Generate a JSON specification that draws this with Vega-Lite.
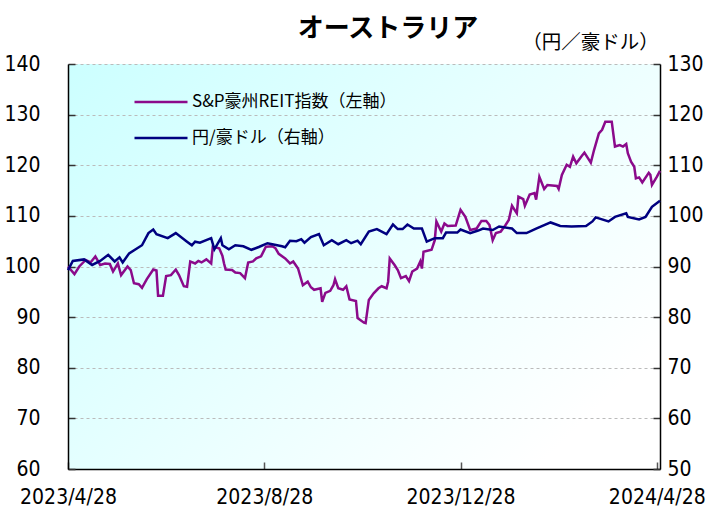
{
  "$schema": "https://vega.github.io/schema/vega-lite/v6.json",
  "width": 592,
  "height": 405,
  "autosize": {"type": "none"},
  "padding": {"left": 68, "top": 64, "right": 50, "bottom": 40},
  "background": "white",
  "config": {
    "view": {
      "stroke": null,
      "fill": {"gradient": "linear", "x1": 0, "y1": 0, "x2": 1, "y2": 0.7, "stops": [{"offset": 0, "color": "#ccffff"}, {"offset": 1, "color": "#ffffff"}]}
    }
  },
  "title": {
    "text": "オーストラリア",
    "font": "Noto Sans CJK JP",
    "fontSize": 26,
    "fontWeight": "bold",
    "color": "black",
    "anchor": "middle",
    "dx": 24,
    "offset": -10
  },
  "datasets": {
    "reit": [
      {"d": "2023-04-28", "v": 100.0}, {"d": "2023-05-02", "v": 98.5}, {"d": "2023-05-05", "v": 100.0}, {"d": "2023-05-09", "v": 101.3},
      {"d": "2023-05-12", "v": 100.8}, {"d": "2023-05-15", "v": 102.0}, {"d": "2023-05-18", "v": 100.3}, {"d": "2023-05-21", "v": 100.6},
      {"d": "2023-05-24", "v": 100.5}, {"d": "2023-05-26", "v": 99.0}, {"d": "2023-05-29", "v": 100.6}, {"d": "2023-05-31", "v": 98.3},
      {"d": "2023-06-04", "v": 100.0}, {"d": "2023-06-06", "v": 99.3}, {"d": "2023-06-08", "v": 96.7}, {"d": "2023-06-11", "v": 96.5},
      {"d": "2023-06-13", "v": 95.8}, {"d": "2023-06-16", "v": 97.5}, {"d": "2023-06-20", "v": 99.4}, {"d": "2023-06-22", "v": 99.2},
      {"d": "2023-06-23", "v": 94.2}, {"d": "2023-06-26", "v": 94.2}, {"d": "2023-06-28", "v": 98.1}, {"d": "2023-07-01", "v": 98.3},
      {"d": "2023-07-04", "v": 99.4}, {"d": "2023-07-06", "v": 98.3}, {"d": "2023-07-09", "v": 96.1}, {"d": "2023-07-11", "v": 96.0},
      {"d": "2023-07-13", "v": 101.0}, {"d": "2023-07-16", "v": 100.6}, {"d": "2023-07-18", "v": 101.1}, {"d": "2023-07-20", "v": 100.8},
      {"d": "2023-07-23", "v": 101.4}, {"d": "2023-07-26", "v": 100.6}, {"d": "2023-07-27", "v": 103.9}, {"d": "2023-07-31", "v": 103.6},
      {"d": "2023-08-02", "v": 102.1}, {"d": "2023-08-03", "v": 100.6}, {"d": "2023-08-04", "v": 99.4}, {"d": "2023-08-08", "v": 99.3},
      {"d": "2023-08-10", "v": 98.8}, {"d": "2023-08-13", "v": 98.7}, {"d": "2023-08-16", "v": 97.7}, {"d": "2023-08-18", "v": 100.8},
      {"d": "2023-08-21", "v": 101.0}, {"d": "2023-08-23", "v": 101.6}, {"d": "2023-08-26", "v": 102.0}, {"d": "2023-08-29", "v": 103.9},
      {"d": "2023-09-02", "v": 104.0}, {"d": "2023-09-04", "v": 103.6}, {"d": "2023-09-06", "v": 102.5}, {"d": "2023-09-10", "v": 101.6},
      {"d": "2023-09-13", "v": 100.6}, {"d": "2023-09-15", "v": 101.0}, {"d": "2023-09-18", "v": 99.6}, {"d": "2023-09-21", "v": 96.3},
      {"d": "2023-09-24", "v": 97.0}, {"d": "2023-09-26", "v": 95.9}, {"d": "2023-09-28", "v": 95.4}, {"d": "2023-10-02", "v": 95.7},
      {"d": "2023-10-03", "v": 93.0}, {"d": "2023-10-05", "v": 94.8}, {"d": "2023-10-08", "v": 95.2}, {"d": "2023-10-10", "v": 96.3},
      {"d": "2023-10-11", "v": 97.5}, {"d": "2023-10-13", "v": 95.7}, {"d": "2023-10-16", "v": 95.4}, {"d": "2023-10-18", "v": 96.1},
      {"d": "2023-10-20", "v": 93.5}, {"d": "2023-10-24", "v": 93.2}, {"d": "2023-10-25", "v": 89.8}, {"d": "2023-10-29", "v": 88.9},
      {"d": "2023-10-30", "v": 88.8}, {"d": "2023-11-01", "v": 93.4}, {"d": "2023-11-04", "v": 94.7}, {"d": "2023-11-07", "v": 95.7},
      {"d": "2023-11-09", "v": 96.1}, {"d": "2023-11-12", "v": 95.7}, {"d": "2023-11-13", "v": 97.0}, {"d": "2023-11-14", "v": 101.6},
      {"d": "2023-11-17", "v": 100.3}, {"d": "2023-11-19", "v": 99.3}, {"d": "2023-11-21", "v": 97.7}, {"d": "2023-11-24", "v": 98.1},
      {"d": "2023-11-26", "v": 97.1}, {"d": "2023-11-28", "v": 99.0}, {"d": "2023-12-01", "v": 99.6}, {"d": "2023-12-03", "v": 101.0},
      {"d": "2023-12-04", "v": 99.6}, {"d": "2023-12-05", "v": 102.9}, {"d": "2023-12-10", "v": 103.3}, {"d": "2023-12-12", "v": 105.2},
      {"d": "2023-12-13", "v": 108.9}, {"d": "2023-12-16", "v": 106.9}, {"d": "2023-12-18", "v": 108.5}, {"d": "2023-12-20", "v": 108.0},
      {"d": "2023-12-25", "v": 108.1}, {"d": "2023-12-28", "v": 111.2}, {"d": "2023-12-31", "v": 109.8}, {"d": "2024-01-03", "v": 107.2},
      {"d": "2024-01-07", "v": 107.5}, {"d": "2024-01-10", "v": 109.0}, {"d": "2024-01-13", "v": 109.0}, {"d": "2024-01-15", "v": 108.2},
      {"d": "2024-01-17", "v": 105.2}, {"d": "2024-01-19", "v": 106.6}, {"d": "2024-01-22", "v": 106.9}, {"d": "2024-01-25", "v": 108.2},
      {"d": "2024-01-27", "v": 109.2}, {"d": "2024-01-29", "v": 112.0}, {"d": "2024-02-01", "v": 110.5}, {"d": "2024-02-02", "v": 113.8},
      {"d": "2024-02-05", "v": 113.3}, {"d": "2024-02-06", "v": 112.0}, {"d": "2024-02-09", "v": 114.2}, {"d": "2024-02-12", "v": 114.5},
      {"d": "2024-02-13", "v": 113.2}, {"d": "2024-02-15", "v": 117.7}, {"d": "2024-02-18", "v": 115.3}, {"d": "2024-02-20", "v": 116.1},
      {"d": "2024-02-26", "v": 115.9}, {"d": "2024-02-27", "v": 115.3}, {"d": "2024-02-29", "v": 118.1}, {"d": "2024-03-03", "v": 120.1},
      {"d": "2024-03-05", "v": 119.7}, {"d": "2024-03-07", "v": 121.7}, {"d": "2024-03-09", "v": 120.4}, {"d": "2024-03-12", "v": 121.7},
      {"d": "2024-03-14", "v": 122.5}, {"d": "2024-03-18", "v": 120.5}, {"d": "2024-03-20", "v": 123.0}, {"d": "2024-03-23", "v": 126.3},
      {"d": "2024-03-25", "v": 127.0}, {"d": "2024-03-27", "v": 128.6}, {"d": "2024-03-31", "v": 128.6}, {"d": "2024-04-02", "v": 123.7},
      {"d": "2024-04-05", "v": 124.0}, {"d": "2024-04-07", "v": 123.7}, {"d": "2024-04-09", "v": 124.2}, {"d": "2024-04-10", "v": 122.4},
      {"d": "2024-04-12", "v": 120.7}, {"d": "2024-04-14", "v": 119.7}, {"d": "2024-04-15", "v": 117.4}, {"d": "2024-04-17", "v": 117.6},
      {"d": "2024-04-19", "v": 116.6}, {"d": "2024-04-23", "v": 118.5}, {"d": "2024-04-24", "v": 118.1}, {"d": "2024-04-25", "v": 116.1},
      {"d": "2024-04-28", "v": 117.7}, {"d": "2024-04-30", "v": 118.9}
    ],
    "jpy": [
      {"d": "2023-04-28", "v": 89.3}, {"d": "2023-05-01", "v": 91.1}, {"d": "2023-05-08", "v": 91.4}, {"d": "2023-05-13", "v": 90.3},
      {"d": "2023-05-18", "v": 91.1}, {"d": "2023-05-23", "v": 92.3}, {"d": "2023-05-27", "v": 91.0}, {"d": "2023-05-30", "v": 91.8},
      {"d": "2023-06-01", "v": 90.8}, {"d": "2023-06-05", "v": 92.6}, {"d": "2023-06-13", "v": 94.2}, {"d": "2023-06-17", "v": 96.6},
      {"d": "2023-06-20", "v": 97.3}, {"d": "2023-06-22", "v": 96.4}, {"d": "2023-06-29", "v": 95.6}, {"d": "2023-07-04", "v": 96.6},
      {"d": "2023-07-11", "v": 94.9}, {"d": "2023-07-14", "v": 94.2}, {"d": "2023-07-16", "v": 94.9}, {"d": "2023-07-19", "v": 94.7},
      {"d": "2023-07-26", "v": 95.6}, {"d": "2023-07-28", "v": 93.4}, {"d": "2023-08-01", "v": 95.6}, {"d": "2023-08-02", "v": 94.2},
      {"d": "2023-08-06", "v": 93.4}, {"d": "2023-08-10", "v": 94.2}, {"d": "2023-08-15", "v": 94.0}, {"d": "2023-08-20", "v": 93.3},
      {"d": "2023-08-25", "v": 93.9}, {"d": "2023-08-30", "v": 94.6}, {"d": "2023-09-02", "v": 94.4}, {"d": "2023-09-08", "v": 94.0},
      {"d": "2023-09-10", "v": 93.8}, {"d": "2023-09-13", "v": 95.1}, {"d": "2023-09-17", "v": 95.0}, {"d": "2023-09-20", "v": 95.4},
      {"d": "2023-09-22", "v": 94.7}, {"d": "2023-09-26", "v": 95.8}, {"d": "2023-10-01", "v": 96.4}, {"d": "2023-10-04", "v": 94.2},
      {"d": "2023-10-09", "v": 95.2}, {"d": "2023-10-13", "v": 94.4}, {"d": "2023-10-18", "v": 95.2}, {"d": "2023-10-21", "v": 94.6},
      {"d": "2023-10-25", "v": 95.1}, {"d": "2023-10-27", "v": 94.4}, {"d": "2023-11-01", "v": 96.9}, {"d": "2023-11-06", "v": 97.4},
      {"d": "2023-11-12", "v": 96.4}, {"d": "2023-11-16", "v": 98.3}, {"d": "2023-11-19", "v": 97.4}, {"d": "2023-11-22", "v": 97.4},
      {"d": "2023-11-25", "v": 98.3}, {"d": "2023-11-29", "v": 97.5}, {"d": "2023-12-04", "v": 97.5}, {"d": "2023-12-07", "v": 94.9},
      {"d": "2023-12-12", "v": 95.6}, {"d": "2023-12-17", "v": 95.6}, {"d": "2023-12-19", "v": 96.7}, {"d": "2023-12-26", "v": 96.7},
      {"d": "2023-12-28", "v": 97.3}, {"d": "2024-01-03", "v": 96.6}, {"d": "2024-01-08", "v": 97.1}, {"d": "2024-01-11", "v": 97.5},
      {"d": "2024-01-17", "v": 97.2}, {"d": "2024-01-21", "v": 97.9}, {"d": "2024-01-29", "v": 97.5}, {"d": "2024-02-01", "v": 96.6},
      {"d": "2024-02-07", "v": 96.6}, {"d": "2024-02-13", "v": 97.5}, {"d": "2024-02-22", "v": 98.7}, {"d": "2024-02-28", "v": 98.0},
      {"d": "2024-03-06", "v": 97.9}, {"d": "2024-03-15", "v": 98.0}, {"d": "2024-03-19", "v": 98.9}, {"d": "2024-03-21", "v": 99.7},
      {"d": "2024-03-29", "v": 98.9}, {"d": "2024-04-02", "v": 99.8}, {"d": "2024-04-09", "v": 100.5}, {"d": "2024-04-10", "v": 99.8},
      {"d": "2024-04-17", "v": 99.3}, {"d": "2024-04-21", "v": 99.8}, {"d": "2024-04-25", "v": 101.8}, {"d": "2024-04-30", "v": 103.0}
    ]
  },
  "layer": [
    {
      "data": {"name": "reit"},
      "mark": {"type": "line", "strokeWidth": 2.5},
      "encoding": {
        "x": {
          "field": "d", "type": "temporal",
          "scale": {"type": "utc", "domain": [{"year": 2023, "month": 4, "date": 28, "utc": true}, {"year": 2024, "month": 4, "date": 30, "utc": true}]},
          "axis": {
            "title": null,
            "values": [{"year": 2023, "month": 4, "date": 28, "utc": true}, {"year": 2023, "month": 8, "date": 28, "utc": true}, {"year": 2023, "month": 12, "date": 28, "utc": true}, {"year": 2024, "month": 4, "date": 28, "utc": true}],
            "labelExpr": "utcFormat(datum.value, '%Y/%-m/%-d')",
            "grid": false,
            "domainColor": "black", "domainWidth": 1.5,
            "tickColor": "#555555", "tickSize": -7, "tickWidth": 1.5,
            "labelFont": "Liberation Sans Narrow, DejaVu Sans Condensed, sans-serif",
            "labelFontSize": 21, "labelColor": "black", "labelPadding": 24,
            "labelFlush": false, "labelOverlap": false
          }
        },
        "y": {
          "field": "v", "type": "quantitative",
          "scale": {"domain": [60, 140], "nice": false, "zero": false},
          "axis": {
            "title": null, "values": [60, 70, 80, 90, 100, 110, 120, 130, 140],
            "grid": true, "gridColor": "#bbbbbb", "gridDash": [3, 3], "gridWidth": 1,
            "domainColor": "black", "domainWidth": 1.5,
            "tickColor": "#333333", "tickSize": -7, "tickWidth": 1.5,
            "labelFont": "Liberation Sans Narrow, DejaVu Sans Condensed, sans-serif",
            "labelFontSize": 21, "labelColor": "black", "labelPadding": 35,
            "labelFlush": false, "labelOverlap": false
          }
        },
        "color": {
          "datum": "S&P豪州REIT指数（左軸）",
          "scale": {"domain": ["S&P豪州REIT指数（左軸）", "円/豪ドル（右軸）"], "range": ["#8b0a8b", "#000080"]},
          "legend": {
            "title": null, "orient": "none", "legendX": 65, "legendY": 10,
            "symbolType": "stroke", "symbolSize": 2809, "symbolStrokeWidth": 2.5,
            "labelFont": "Noto Sans CJK JP", "labelFontSize": 17, "labelColor": "black", "labelLimit": 400,
            "labelOffset": 3, "rowPadding": -20, "padding": 0
          }
        }
      }
    },
    {
      "data": {"name": "jpy"},
      "mark": {"type": "line", "strokeWidth": 2.5},
      "encoding": {
        "x": {"field": "d", "type": "temporal"},
        "y": {
          "field": "v", "type": "quantitative",
          "scale": {"domain": [50, 130], "nice": false, "zero": false},
          "axis": {
            "orient": "right",
            "title": "（円／豪ドル）", "titleAngle": 0, "titleX": -70, "titleY": -22,
            "titleAlign": "center", "titleBaseline": "middle",
            "titleFont": "Noto Sans CJK JP", "titleFontSize": 19.5, "titleFontWeight": "normal", "titleColor": "black",
            "values": [50, 60, 70, 80, 90, 100, 110, 120, 130],
            "grid": false,
            "domainColor": "black", "domainWidth": 1.5,
            "tickColor": "#333333", "tickSize": -7, "tickWidth": 1.5,
            "labelFont": "Liberation Sans Narrow, DejaVu Sans Condensed, sans-serif",
            "labelFontSize": 21, "labelColor": "black", "labelPadding": 14,
            "labelFlush": false, "labelOverlap": false
          }
        },
        "color": {"datum": "円/豪ドル（右軸）"}
      }
    }
  ],
  "resolve": {"scale": {"y": "independent"}}
}
